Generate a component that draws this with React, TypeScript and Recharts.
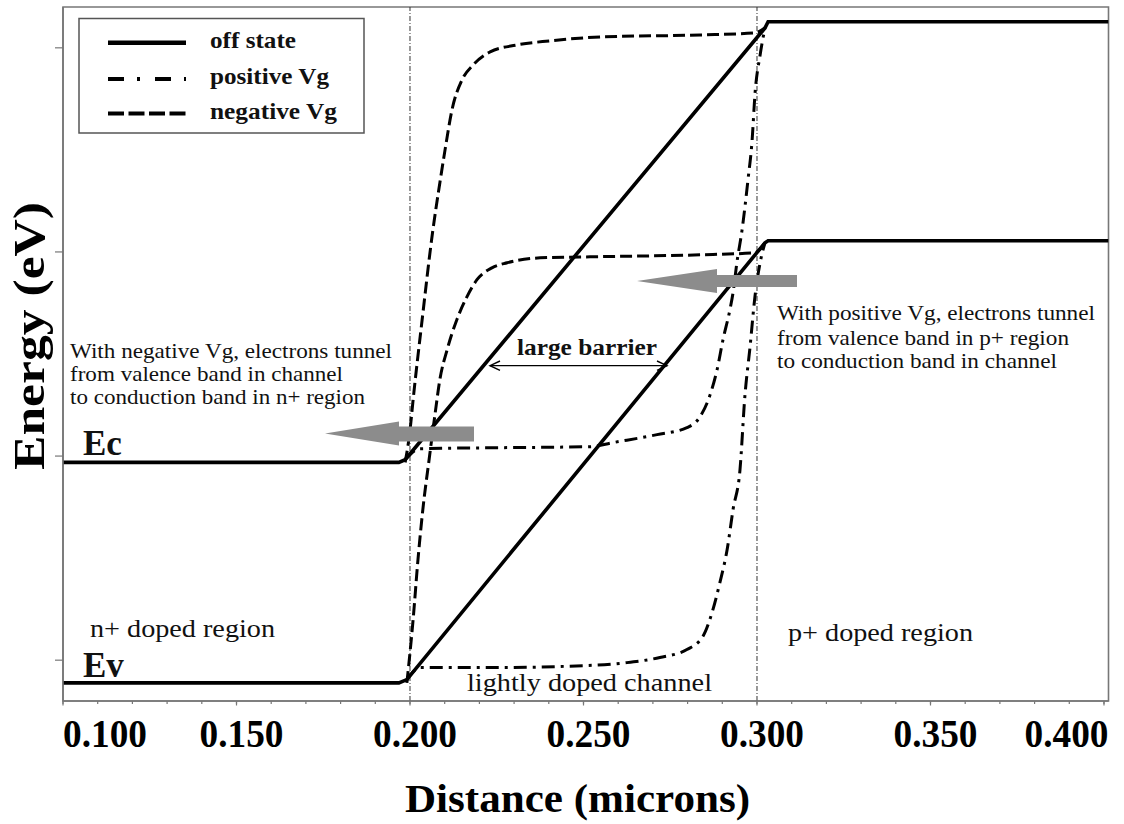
import React from 'react';
import { LineChart, Line, XAxis, YAxis, ReferenceLine, ReferenceArea } from 'recharts';

// ---- data (distance in microns, energy in eV-like units) ----
const offEcX = [0.1, 0.1968, 0.1986, 0.3023, 0.3032, 0.4013];
const offEcY = [0.969, 0.969, 0.982, 3.097, 3.128, 3.128];
const offEvX = [0.1, 0.1968, 0.1991, 0.3023, 0.3032, 0.4013];
const offEvY = [-0.111, -0.111, -0.095, 2.045, 2.055, 2.055];

const posEcX = [0.1986, 0.2029, 0.2259, 0.2519, 0.2585, 0.2712, 0.2798, 0.2836, 0.2865, 0.2885, 0.2902, 0.2922, 0.2931, 0.2942, 0.2957, 0.2974, 0.2986, 0.2994, 0.3009, 0.3023];
const posEcY = [0.982, 1.036, 1.041, 1.046, 1.066, 1.105, 1.139, 1.193, 1.301, 1.423, 1.570, 1.717, 1.800, 1.947, 2.108, 2.353, 2.549, 2.769, 2.965, 3.097];
const posEvX = [0.1991, 0.2029, 0.2259, 0.2432, 0.2625, 0.2720, 0.2798, 0.2844, 0.2873, 0.2893, 0.2914, 0.2931, 0.2951, 0.2965, 0.2980, 0.2994, 0.3009, 0.3023];
const posEvY = [-0.095, -0.036, -0.036, -0.031, -0.012, 0.013, 0.052, 0.116, 0.248, 0.380, 0.542, 0.738, 0.933, 1.291, 1.535, 1.780, 1.947, 2.045];

const negEcX = [0.1986, 0.2000, 0.2009, 0.2035, 0.2066, 0.2086, 0.2101, 0.2121, 0.2150, 0.2182, 0.2231, 0.2308, 0.2403, 0.2548, 0.2836, 0.2994, 0.3023];
const negEcY = [0.969, 1.125, 1.276, 1.668, 2.108, 2.338, 2.500, 2.696, 2.843, 2.916, 2.980, 3.014, 3.034, 3.053, 3.063, 3.073, 3.097];
const negEvX = [0.1991, 0.2009, 0.2023, 0.2037, 0.2055, 0.2072, 0.2086, 0.2107, 0.2135, 0.2164, 0.2193, 0.2236, 0.2280, 0.2375, 0.2519, 0.2836, 0.2994, 0.3023];
const negEvY = [-0.111, 0.199, 0.493, 0.738, 0.982, 1.203, 1.374, 1.521, 1.668, 1.780, 1.864, 1.922, 1.947, 1.971, 1.976, 1.986, 1.996, 2.045];

const majorTicks = [0.1, 0.15, 0.2, 0.25, 0.3, 0.35, 0.4];
const majorTickLabels = ['0.100', '0.150', '0.200', '0.250', '0.300', '0.350', '0.400'];
const minorTicks = [0.11, 0.12, 0.13, 0.14, 0.16, 0.17, 0.18, 0.19, 0.21, 0.22, 0.23, 0.24, 0.26, 0.27, 0.28, 0.29, 0.31, 0.32, 0.33, 0.34, 0.36, 0.37, 0.38, 0.39];
const yTicks = [0, 1, 2, 3];
const xDomain = [0.1, 0.4013];
const yDomain = [-0.2, 3.2];
const regionBounds = [0.2, 0.3];

const zip = (xs: number[], ys: number[]) => xs.map((x, i) => ({ x, y: ys[i] }));
const offEc = zip(offEcX, offEcY);
const offEv = zip(offEvX, offEvY);
const posEc = zip(posEcX, posEcY);
const posEv = zip(posEvX, posEvY);
const negEc = zip(negEcX, negEcY);
const negEv = zip(negEvX, negEvY);
const allTicks = [...majorTicks, ...minorTicks].sort((a, b) => a - b);

const SERIF = "'Liberation Serif', 'Times New Roman', Times, serif";
const AXIS = '#777';
const DASH_POS = '13 6 3 6';
const DASH_NEG = '12 5';

const XTick = (props: any) => {
  const { x, y, payload } = props;
  const idx = majorTicks.findIndex((t) => Math.abs(t - payload.value) < 1e-6);
  if (idx < 0) return <g />;
  const first = idx === 0;
  const last = idx === majorTicks.length - 1;
  const anchor = first ? 'start' : last ? 'end' : 'middle';
  const tx = first ? x : last ? x + 4.5 : x + 5;
  return (
    <g>
      <line x1={x} x2={x} y1={y - 5} y2={y - 0.5} stroke={AXIS} strokeWidth={1.2} />
      <text x={tx} y={y + 41} textAnchor={anchor} fontFamily={SERIF} fontWeight="bold" fontSize={39}
        textLength={84} lengthAdjust="spacingAndGlyphs" fill="#000">{majorTickLabels[idx]}</text>
    </g>
  );
};
const EmptyTick = () => <g />;

const T = (p: any) => (
  <text x={p.x} y={p.y} fontFamily={SERIF} fontSize={p.size || 22} fontWeight={p.bold ? 'bold' : 'normal'}
    textLength={p.len} lengthAdjust={p.len ? 'spacingAndGlyphs' : undefined} fill="#111">{p.children}</text>
);

export default function App() {
  return (
    <div style={{ position: 'absolute', left: 0, top: 0, width: 1124, height: 824, background: '#fff' }}>
      <LineChart width={1124} height={824} margin={{ top: 7, right: 15.5, bottom: 0, left: 0 }}>
        <XAxis dataKey="x" type="number" domain={xDomain} ticks={allTicks} interval={0} allowDataOverflow
          height={123} tickSize={3} tick={<XTick />} axisLine={{ stroke: AXIS, strokeWidth: 1.6 }}
          tickLine={{ stroke: AXIS, strokeWidth: 1.2 }} />
        <YAxis type="number" domain={yDomain} ticks={yTicks} allowDataOverflow width={63} tickSize={8}
          tick={<EmptyTick />} axisLine={{ stroke: AXIS, strokeWidth: 1.6 }} tickLine={{ stroke: AXIS, strokeWidth: 1.2 }} />
        <ReferenceArea x1={xDomain[0]} x2={xDomain[1]} y1={yDomain[0]} y2={yDomain[1]} fill="none" fillOpacity={0}
          stroke={AXIS} strokeWidth={1.6} />
        {regionBounds.map((b) => (
          <ReferenceLine key={b} x={b} stroke="#333" strokeWidth={1} strokeDasharray="5 2 1 2" />
        ))}
        <Line data={negEc} dataKey="y" type="monotoneX" stroke="#000" strokeWidth={3} strokeDasharray={DASH_NEG} dot={false} isAnimationActive={false} />
        <Line data={negEv} dataKey="y" type="monotoneX" stroke="#000" strokeWidth={3} strokeDasharray={DASH_NEG} dot={false} isAnimationActive={false} />
        <Line data={posEc} dataKey="y" type="monotoneX" stroke="#000" strokeWidth={3} strokeDasharray={DASH_POS} dot={false} isAnimationActive={false} />
        <Line data={posEv} dataKey="y" type="monotoneX" stroke="#000" strokeWidth={3} strokeDasharray={DASH_POS} dot={false} isAnimationActive={false} />
        <Line data={offEc} dataKey="y" type="linear" stroke="#000" strokeWidth={3.6} dot={false} isAnimationActive={false} />
        <Line data={offEv} dataKey="y" type="linear" stroke="#000" strokeWidth={3.6} dot={false} isAnimationActive={false} />
      </LineChart>
      <svg width={1124} height={824} style={{ position: 'absolute', left: 0, top: 0, pointerEvents: 'none' }}>
        {/* legend */}
        <rect x={79} y={18.5} width={285} height={114.5} fill="#fff" stroke="#555" strokeWidth={1.5} />
        <line x1={108} x2={186} y1={42.7} y2={42.7} stroke="#000" strokeWidth={4.5} />
        <line x1={108} x2={186} y1={79} y2={79} stroke="#000" strokeWidth={4} strokeDasharray="16 13 3 15" />
        <line x1={108} x2={186} y1={113.5} y2={113.5} stroke="#000" strokeWidth={4} strokeDasharray="16 4.5" />
        <T x={210} y={48} size={24} bold len={86}>off state</T>
        <T x={210} y={83.5} size={24} bold len={119}>positive Vg</T>
        <T x={210} y={118.5} size={24} bold len={127}>negative Vg</T>

        {/* gray arrows */}
        <polygon points="325,433.5 399,421.5 399,426.5 474,426.5 474,441.5 399,441.5 399,445.5" fill="#8c8c8c" />
        <polygon points="637,281 717,269 717,275 797,275 797,287 717,287 717,293" fill="#8c8c8c" />

        {/* large barrier double arrow */}
        <line x1={490} x2={667} y1={365.7} y2={365.7} stroke="#000" strokeWidth={1.2} />
        <polyline points="500,361 490,365.7 500,370.4" fill="none" stroke="#000" strokeWidth={1.4} />
        <polyline points="657,361 667,365.7 657,370.4" fill="none" stroke="#000" strokeWidth={1.4} />
        <T x={517} y={355} size={24} bold len={140}>large barrier</T>

        {/* annotations */}
        <T x={70} y={358} size={21} len={322}>With negative Vg, electrons tunnel</T>
        <T x={70} y={381} size={21} len={273}>from valence band in channel</T>
        <T x={70} y={404} size={21} len={295}>to conduction band in n+ region</T>
        <T x={777} y={320} size={21} len={318}>With positive Vg, electrons tunnel</T>
        <T x={777} y={345} size={21} len={292}>from valence band in p+ region</T>
        <T x={777} y={368} size={21} len={280}>to conduction band in channel</T>
        <T x={90} y={637} size={25} len={185}>n+ doped region</T>
        <T x={788} y={641} size={25} len={185}>p+ doped region</T>
        <T x={467} y={691} size={25} len={245}>lightly doped channel</T>
        <T x={83} y={455} size={35} bold>Ec</T>
        <T x={83} y={677} size={35} bold>Ev</T>

        {/* axis titles */}
        <text x={405} y={812} fontFamily={SERIF} fontWeight="bold" fontSize={41} textLength={345}
          lengthAdjust="spacingAndGlyphs" fill="#000">Distance (microns)</text>
        <text x={44} y={470} transform="rotate(-90 44 470)" fontFamily={SERIF} fontWeight="bold" fontSize={45}
          textLength={268} lengthAdjust="spacingAndGlyphs" fill="#000">Energy (eV)</text>
      </svg>
    </div>
  );
}
